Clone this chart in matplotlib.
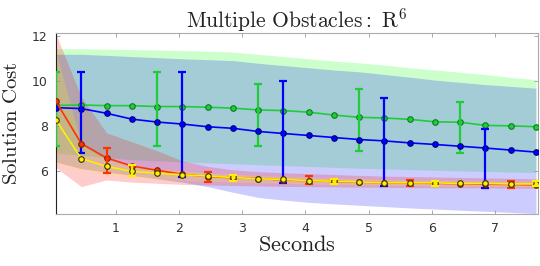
import numpy as np
from matplotlib import pyplot as plt

plt.rcParams['mathtext.fontset'] = 'cm'

##############################################################################
# Donnees
secondes = [0.05, 0.45, 0.85, 1.25, 1.65, 2.05, 2.45, 2.85, 3.25, 3.65,
            4.05, 4.45, 4.85, 5.25, 5.65, 6.05, 6.45, 6.85, 7.25, 7.65]

cout_vert = [8.92, 8.94, 8.91, 8.91, 8.87, 8.87, 8.84, 8.80, 8.72, 8.69,
             8.62, 8.49, 8.39, 8.36, 8.30, 8.19, 8.17, 8.03, 8.01, 7.97]
cout_bleu = [8.82, 8.78, 8.57, 8.31, 8.18, 8.09, 7.97, 7.90, 7.76, 7.67,
             7.58, 7.49, 7.40, 7.34, 7.25, 7.18, 7.10, 7.02, 6.93, 6.84]
cout_rouge = [9.10, 7.22, 6.58, 6.22, 6.03, 5.85, 5.75, 5.70, 5.66, 5.60,
              5.57, 5.53, 5.50, 5.48, 5.46, 5.45, 5.43, 5.41, 5.40, 5.38]
cout_jaune = [8.27, 6.55, 6.20, 5.98, 5.90, 5.83, 5.77, 5.71, 5.65, 5.62,
              5.57, 5.54, 5.51, 5.48, 5.47, 5.47, 5.44, 5.44, 5.42, 5.42]

# bandes (min / max)
vert_haut = [11.45, 11.45, 11.43, 11.41, 11.39, 11.37, 11.34, 11.30, 11.20, 11.10,
             11.00, 10.90, 10.82, 10.72, 10.60, 10.50, 10.40, 10.30, 10.17, 10.07]
vert_bas = [6.80, 6.70, 6.60, 6.50, 6.45, 6.40, 6.36, 6.32, 6.28, 6.24,
            6.20, 6.16, 6.12, 6.09, 6.06, 6.03, 6.00, 5.98, 5.95, 5.93]
bleu_haut = [11.20, 11.20, 11.15, 11.10, 11.05, 11.00, 10.96, 10.92, 10.80, 10.70,
             10.60, 10.50, 10.42, 10.30, 10.18, 10.05, 9.95, 9.85, 9.77, 9.69]
bleu_bas = [6.40, 6.10, 5.95, 5.80, 5.65, 5.50, 5.30, 5.05, 4.82, 4.70,
            4.60, 4.53, 4.47, 4.41, 4.35, 4.30, 4.25, 4.20, 4.15, 4.10]
rouge_haut = [12.10, 9.30, 7.70, 7.30, 6.90, 6.45, 6.20, 6.05, 5.97, 5.92,
              5.88, 5.84, 5.80, 5.77, 5.75, 5.73, 5.71, 5.69, 5.67, 5.65]
rouge_bas = [6.15, 5.30, 5.60, 5.50, 5.45, 5.40, 5.37, 5.35, 5.33, 5.31,
             5.30, 5.29, 5.28, 5.27, 5.26, 5.25, 5.25, 5.24, 5.23, 5.22]
jaune_haut = [11.30, 7.20, 6.50, 6.25, 6.10, 6.00, 5.92, 5.85, 5.80, 5.75,
              5.72, 5.68, 5.65, 5.62, 5.60, 5.58, 5.56, 5.55, 5.53, 5.52]
jaune_bas = [6.35, 6.05, 5.85, 5.72, 5.64, 5.58, 5.54, 5.50, 5.47, 5.45,
             5.42, 5.40, 5.38, 5.36, 5.35, 5.33, 5.32, 5.31, 5.30, 5.30]

# barres d'erreur (une sur quatre, decalees par serie)
err_vert_haut = [10.41, 10.41, 9.87, 9.65, 9.09]
err_vert_bas = [7.11, 7.11, 7.11, 6.89, 6.80]
err_bleu_haut = [10.41, 10.41, 10.02, 9.24, 7.85]
err_bleu_bas = [6.82, 5.75, 5.47, 5.32, 5.23]
err_rouge_haut = [7.03, 5.96, 5.78, 5.60, 5.55]
err_rouge_bas = [5.91, 5.51, 5.43, 5.31, 5.25]
err_jaune_haut = [6.25, 5.81, 5.65, 5.57, 5.55]
err_jaune_bas = [5.77, 5.53, 5.42, 5.35, 5.32]

##############################################################################
# Graphique
fig = plt.figure(figsize=(5.4, 2.66), dpi=100)
ax = fig.add_axes([0.1037, 0.1955, 0.8923, 0.6805])

ax.fill_between(secondes, vert_bas, vert_haut, color=(0, 1, 0), alpha=0.2, lw=0)
ax.fill_between(secondes, bleu_bas, bleu_haut, color=(0, 0, 1), alpha=0.2, lw=0)
ax.fill_between(secondes, rouge_bas, rouge_haut, color=(1, 0, 0), alpha=0.2, lw=0)
ax.fill_between(secondes, jaune_bas, jaune_haut, color=(1, 1, 0), alpha=0.2, lw=0)

series = [
    (cout_vert, '#1fcc3a', '#0f7a20', err_vert_bas, err_vert_haut, 0),
    (cout_bleu, '#0000ff', '#00007a', err_bleu_bas, err_bleu_haut, 1),
    (cout_rouge, '#ff3300', '#8a1a00', err_rouge_bas, err_rouge_haut, 2),
    (cout_jaune, '#ffee00', '#333300', err_jaune_bas, err_jaune_haut, 3),
]

for cout, couleur, bord, bas, haut, debut in series:
    ax.plot(secondes, cout, '-', color=couleur, lw=1.2, marker='o', ms=4,
            mfc=couleur, mec=bord, mew=0.8, zorder=3)
    xe = secondes[debut::4]
    ye = cout[debut::4]
    yerr = [np.array(ye) - np.array(bas), np.array(haut) - np.array(ye)]
    ax.errorbar(xe, ye, yerr=yerr, fmt='none', ecolor=couleur, elinewidth=1.6,
                capsize=3.2, capthick=1.6, zorder=3)

ax.set_xlim(0.05, 7.68)
ax.set_ylim(4.08, 12.15)
ax.set_xticks([1, 2, 3, 4, 5, 6, 7])
ax.set_yticks([6, 8, 10, 12])
ax.tick_params(direction='in', length=3, width=0.6, colors='#999999',
               labelcolor='#333333', labelsize=9, top=True, right=True, pad=6)

for cote in ['top', 'right', 'bottom']:
    ax.spines[cote].set_color('#aaaaaa')
    ax.spines[cote].set_linewidth(0.8)
ax.spines['left'].set_color('#222222')
ax.spines['left'].set_linewidth(0.8)

ax.set_title(r'$\mathrm{Multiple\ Obstacles{:}\ R^6}$', fontsize=15.5, color='#222222', pad=4)
ax.set_xlabel(r'$\mathrm{Seconds}$', fontsize=16, color='#222222', labelpad=0)
ax.set_ylabel(r'$\mathrm{Solution\ Cost}$', fontsize=15, color='#222222', labelpad=8)

plt.savefig('out.png', dpi=100)
